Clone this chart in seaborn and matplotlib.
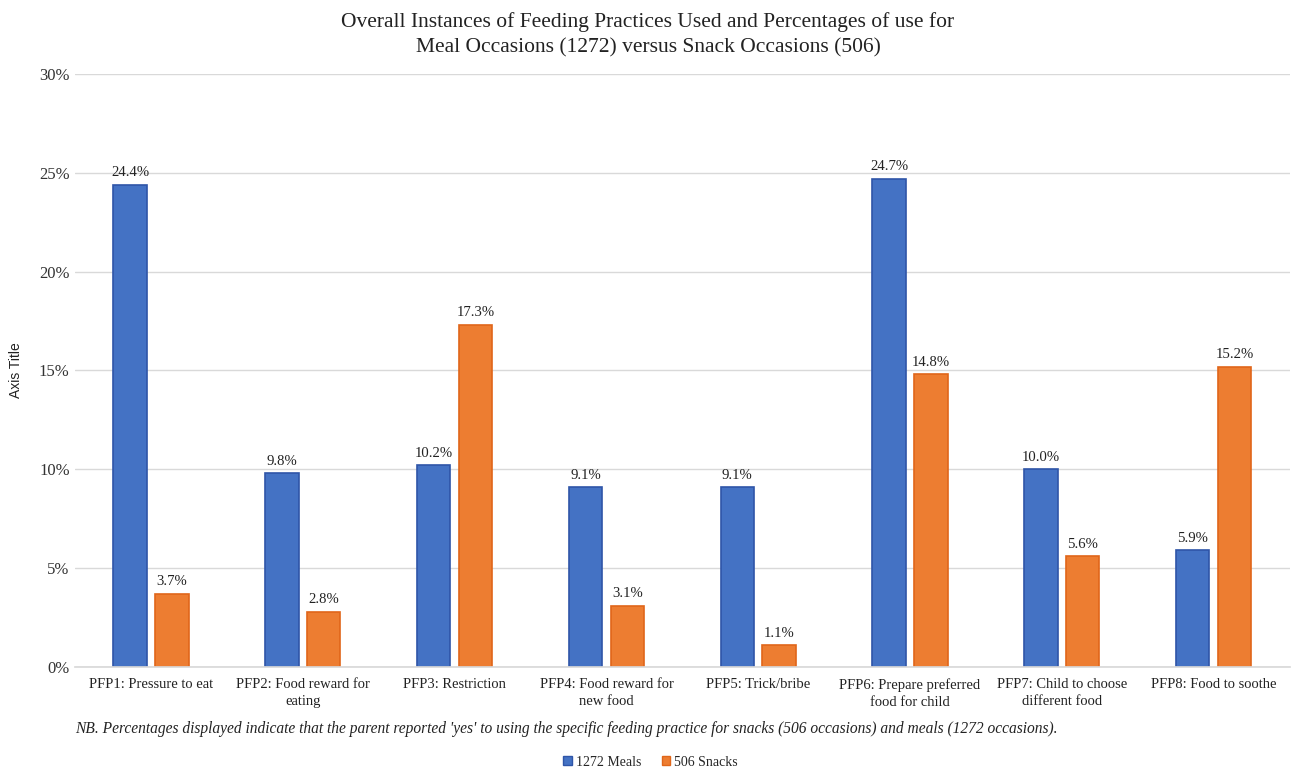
import matplotlib
matplotlib.use("Agg")
import matplotlib.pyplot as plt
import seaborn as sns
import pandas as pd
from matplotlib.ticker import FuncFormatter, MultipleLocator
from matplotlib.patches import Patch

categories = ["PFP1: Pressure to eat", "PFP2: Food reward for\neating", "PFP3: Restriction",
              "PFP4: Food reward for\nnew food", "PFP5: Trick/bribe",
              "PFP6: Prepare preferred\nfood for child", "PFP7: Child to choose\ndifferent food",
              "PFP8: Food to soothe"]
meals = [24.4, 9.8, 10.2, 9.1, 9.1, 24.7, 10.0, 5.9]
snacks = [3.7, 2.8, 17.3, 3.1, 1.1, 14.8, 5.6, 15.2]
series_names = ["1272 Meals", "506 Snacks"]
colors = ["#4472C4", "#ED7D31"]
edge_colors = ["#2F55A8", "#E0661A"]

df = pd.DataFrame({
    "cat": categories * 2,
    "val": meals + snacks,
    "series": [series_names[0]] * len(categories) + [series_names[1]] * len(categories),
})

sns.set_theme(style="white")
plt.rcParams['font.family'] = ['Liberation Serif', 'DejaVu Serif']

fig = plt.figure(figsize=(12.96, 7.71), dpi=100)
ax = fig.add_axes([0.058, 0.135, 0.937, 0.769])

sns.barplot(data=df, x="cat", y="val", hue="series", palette=colors, ax=ax,
            width=0.55, gap=0.2, legend=False, saturation=1)

for i, cont in enumerate(ax.containers):
    for p in cont:
        p.set_edgecolor(edge_colors[i])
        p.set_linewidth(1.2)
    ax.bar_label(cont, labels=[f"{v:.1f}%" for v in cont.datavalues], padding=4,
                 fontsize=10.6, color="#222222")

ax.set_ylim(0, 30)
ax.set_xlim(-0.5, len(categories) - 0.5)
ax.yaxis.set_major_locator(MultipleLocator(5))
ax.yaxis.set_major_formatter(FuncFormatter(lambda v, _: f"{v:.0f}%"))
ax.grid(axis="y", color="#D9D9D9", linewidth=1)
ax.set_axisbelow(True)
for s in ["top", "right", "left"]:
    ax.spines[s].set_visible(False)
ax.spines["bottom"].set_color("#D9D9D9")
ax.tick_params(axis="y", labelsize=12, length=0, pad=4, colors="#333333")
ax.tick_params(axis="x", labelsize=10.5, length=0, pad=8, colors="#222222")
for t in ax.get_xticklabels():
    t.set_linespacing(1.4)
ax.set_xlabel("")
ax.set_ylabel("Axis Title", fontsize=10, family=["Liberation Sans"], color="#222222")
ax.yaxis.set_label_coords(-0.043, 0.5)

fig.suptitle("Overall Instances of Feeding Practices Used and Percentages of use for\n"
             "Meal Occasions (1272) versus Snack Occasions (506)",
             y=0.984, fontsize=15.5, color="#222222", linespacing=1.45)

fig.text(0.058, 1 - 729 / 771,
         "NB. Percentages displayed indicate that the parent reported 'yes' to using the specific feeding practice for snacks (506 occasions) and meals (1272 occasions).",
         fontsize=11.2, style="italic", color="#222222", va="center", ha="left")

handles = [Patch(facecolor=colors[i], edgecolor=edge_colors[i]) for i in range(2)]
fig.legend(handles, series_names, loc="center", bbox_to_anchor=(0.502, 1 - 762 / 771),
           ncol=2, frameon=False, fontsize=10, handlelength=0.6, handleheight=0.6,
           handletextpad=0.3, columnspacing=1.5)

fig.savefig("out.png", dpi=100)
